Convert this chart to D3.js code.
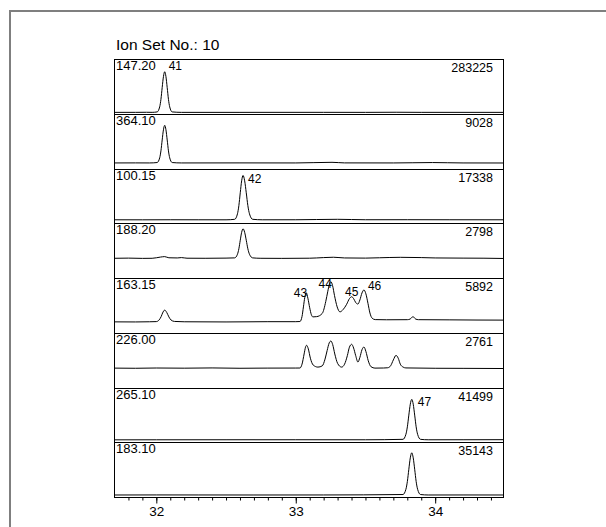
<!DOCTYPE html>
<html>
<head>
<meta charset="utf-8">
<script src="https://cdn.jsdelivr.net/npm/d3@7"></script>
<style>
  html, body { margin: 0; padding: 0; background: #fff; }
  svg { display: block; font-family: "Liberation Sans", Arial, sans-serif; }
</style>
</head>
<body>
<svg id="chart" width="606" height="527"></svg>
<script>
// Ion set 10: one selected-ion trace per panel, retention time in minutes
const title = "Ion Set No.: 10";
const ionMasses = ["147.20", "364.10", "100.15", "188.20", "163.15", "226.00", "265.10", "183.10"];
const maxCounts = [283225, 9028, 17338, 2798, 5892, 2761, 41499, 35143];
// full-scale count of each panel's intensity axis
const axisTop = [368800, 11360, 19700, 3126, 6320, 3233, 52530, 43730];

// [retention time, counts]
const trace147 = [
  [31.70, 11000], [31.85, 11100], [31.93, 11600], [31.97, 11100], [32.006, 14000], [32.024, 47750],
  [32.033, 98100], [32.042, 177000], [32.051, 250600], [32.060, 283225], [32.069, 250600],
  [32.078, 177000], [32.087, 98100], [32.096, 47750], [32.114, 14000], [32.18, 11000],
  [32.6, 11000], [33.2, 11200], [33.5, 11000], [33.72, 11800], [33.9, 11100], [34.49, 11000]
];
const trace364 = [
  [31.70, 1250], [31.85, 1260], [31.95, 1250], [32.006, 1336], [32.024, 2300], [32.033, 3739],
  [32.042, 5995], [32.051, 8095], [32.060, 9028], [32.069, 8095], [32.078, 5995], [32.087, 3739],
  [32.096, 2300], [32.114, 1336], [32.18, 1250], [32.6, 1260], [33.0, 1250], [33.26, 1380],
  [33.35, 1260], [33.7, 1250], [33.98, 1330], [34.2, 1250], [34.49, 1240]
];
const trace100 = [
  [31.70, 1170], [31.9, 1160], [32.1, 1180], [32.3, 1170], [32.50, 1165], [32.562, 1348],
  [32.582, 3353], [32.592, 6344], [32.602, 11032], [32.612, 15398], [32.622, 17338],
  [32.6335, 15398], [32.645, 11032], [32.6565, 6344], [32.668, 3353], [32.691, 1348],
  [32.76, 1170], [33.0, 1180], [33.3, 1350], [33.5, 1190], [33.8, 1200], [34.1, 1180], [34.49, 1170]
];
const trace188 = [
  [31.70, 1120], [31.80, 1130], [31.90, 1115], [31.97, 1120], [32.03, 1190], [32.06, 1215],
  [32.09, 1150], [32.15, 1140], [32.18, 1160], [32.22, 1125], [32.35, 1120], [32.50, 1130],
  [32.562, 1143], [32.582, 1351], [32.592, 1660], [32.602, 2146], [32.612, 2597], [32.622, 2798],
  [32.6335, 2597], [32.645, 2146], [32.6565, 1660], [32.668, 1351], [32.691, 1143], [32.75, 1120],
  [32.9, 1115], [33.1, 1125], [33.2, 1160], [33.27, 1180], [33.35, 1140], [33.5, 1130],
  [33.6, 1150], [33.75, 1175], [33.9, 1160], [34.0, 1140], [34.2, 1130], [34.35, 1125], [34.49, 1110]
];
const trace163 = [
  [31.70, 1280], [31.85, 1270], [31.95, 1290], [32.00, 1310], [32.02, 1500], [32.035, 1900],
  [32.045, 2300], [32.060, 2632], [32.075, 2350], [32.09, 1850], [32.105, 1500], [32.13, 1330],
  [32.2, 1290], [32.5, 1270], [32.8, 1300], [33.00, 1300], [33.03, 1320], [33.045, 1900],
  [33.055, 3000], [33.065, 4100], [33.075, 4630], [33.087, 4000], [33.10, 2900], [33.112, 2100],
  [33.123, 1851], [33.15, 1880], [33.19, 2250], [33.215, 3600], [33.23, 4800], [33.242, 5650],
  [33.252, 5892], [33.264, 5450], [33.278, 4300], [33.297, 3000], [33.317, 2430], [33.34, 2700],
  [33.365, 3300], [33.385, 3950], [33.401, 4166], [33.415, 3950], [33.43, 3500], [33.446, 3327],
  [33.46, 3800], [33.475, 4600], [33.489, 4946], [33.503, 4500], [33.518, 3400], [33.532, 2300],
  [33.548, 1700], [33.57, 1540], [33.65, 1520], [33.80, 1530], [33.82, 1600], [33.841, 1880],
  [33.86, 1600], [33.88, 1530], [34.1, 1510], [34.3, 1490], [34.49, 1480]
];
const trace226 = [
  [31.70, 1169], [31.85, 1160], [32.0, 1175], [32.2, 1165], [32.4, 1180], [32.6, 1160],
  [32.8, 1170], [33.00, 1172], [33.03, 1175], [33.045, 1400], [33.06, 2000], [33.07, 2400],
  [33.078, 2510], [33.09, 2300], [33.105, 1750], [33.125, 1350], [33.159, 1228], [33.19, 1300],
  [33.21, 1700], [33.225, 2200], [33.24, 2650], [33.252, 2761], [33.265, 2550], [33.28, 2000],
  [33.30, 1450], [33.329, 1228], [33.35, 1400], [33.37, 1900], [33.385, 2400], [33.401, 2569],
  [33.415, 2350], [33.43, 1900], [33.446, 1523], [33.46, 1800], [33.475, 2250], [33.489, 2409],
  [33.503, 2150], [33.52, 1600], [33.54, 1250], [33.568, 1169], [33.63, 1175], [33.66, 1190],
  [33.68, 1300], [33.70, 1650], [33.719, 1919], [33.735, 1750], [33.75, 1400], [33.77, 1230],
  [33.79, 1180], [34.0, 1160], [34.2, 1155], [34.49, 1145]
];
const trace265 = [
  [31.70, 2100], [32.0, 2150], [32.5, 2180], [33.0, 2200], [33.5, 2170], [33.769, 2593],
  [33.790, 7471], [33.8005, 14748], [33.811, 26160], [33.8215, 36778], [33.832, 41499],
  [33.8425, 36778], [33.853, 26160], [33.8635, 14748], [33.874, 7471], [33.895, 2593],
  [33.95, 2160], [34.2, 2200], [34.49, 2250]
];
const trace183 = [
  [31.70, 1600], [32.0, 1650], [32.3, 1620], [32.7, 1600], [33.2, 1620], [33.769, 1969],
  [33.790, 6128], [33.8005, 12334], [33.811, 22061], [33.8215, 31118], [33.832, 35143],
  [33.8425, 31118], [33.853, 22061], [33.8635, 12334], [33.874, 6128], [33.895, 1969],
  [33.95, 1600], [34.2, 1620], [34.49, 1600]
];
const traces = [trace147, trace364, trace100, trace188, trace163, trace226, trace265, trace183];

// numbered peaks: panel index, retention time of apex, label
const peakPanel = [0, 2, 4, 4, 4, 4, 6];
const peakTime = [32.060, 32.622, 33.075, 33.252, 33.401, 33.489, 33.832];
const peakText = ["41", "42", "43", "44", "45", "46", "47"];

const timeDomain = [31.70, 34.49];
const majorTicks = [32, 33, 34];
const tickLabels = ["32", "33", "34"];
const minorTicks = d3.range(318, 345).map(d => d / 10);

// ---- layout ----
const svg = d3.select("#chart");
const plotLeft = 114.5, plotRight = 503.5, plotTop = 59, plotBottom = 497;
const panelH = (plotBottom - plotTop) / ionMasses.length;

// surrounding frame
svg.append("rect")
  .attr("x", 10).attr("y", 11).attr("width", 640).attr("height", 560)
  .attr("fill", "none").attr("stroke", "#7f7f7f").attr("stroke-width", 2);

svg.append("text")
  .attr("x", 116).attr("y", 50)
  .attr("font-size", 15.5).attr("fill", "#000")
  .text(title);

const x = d3.scaleLinear().domain(timeDomain).range([plotLeft, plotRight]);

// label placement relative to each apex
const labelPlace = {
  "41": { anchor: "start", dx: 4, dy: -2 },
  "42": { anchor: "start", dx: 5, dy: 8 },
  "43": { anchor: "end", dx: 1, dy: 4 },
  "44": { anchor: "end", dx: 1, dy: 6 },
  "45": { anchor: "middle", dx: 0, dy: -1 },
  "46": { anchor: "start", dx: 4, dy: 0 },
  "47": { anchor: "start", dx: 6, dy: 7 }
};

const yScales = [];
ionMasses.forEach((mass, i) => {
  const y0 = Math.round(plotTop + i * panelH);
  const y1 = Math.round(plotTop + (i + 1) * panelH);
  const y = d3.scaleLinear().domain([0, axisTop[i]]).range([y1, y0]);
  yScales.push(y);

  const g = svg.append("g");
  g.append("rect")
    .attr("x", plotLeft).attr("y", y0 + 0.5)
    .attr("width", plotRight - plotLeft).attr("height", y1 - y0)
    .attr("fill", "none").attr("stroke", "#000").attr("stroke-width", 1);

  const line = d3.line()
    .x(d => x(d[0]))
    .y(d => y(d[1]))
    .curve(d3.curveMonotoneX);

  g.append("path")
    .attr("d", line(traces[i]))
    .attr("fill", "none").attr("stroke", "#000").attr("stroke-width", 1);

  g.append("text")
    .attr("x", plotLeft + 1.5).attr("y", y0 + 11)
    .attr("font-size", 13).attr("fill", "#000")
    .text(mass);

  g.append("text")
    .attr("x", 493).attr("y", y0 + 12.5)
    .attr("font-size", 12.5).attr("fill", "#000")
    .attr("text-anchor", "end")
    .text(String(maxCounts[i]));
});

// peak numbers, placed beside the apex of their trace
peakText.forEach((txt, k) => {
  const p = peakPanel[k];
  const pt = traces[p].find(d => d[0] === peakTime[k]);
  const place = labelPlace[txt];
  svg.append("text")
    .attr("x", x(pt[0]) + place.dx)
    .attr("y", yScales[p](pt[1]) + place.dy)
    .attr("text-anchor", place.anchor)
    .attr("font-size", 12).attr("fill", "#000")
    .text(txt);
});

// time axis under the bottom panel
const axisG = svg.append("g").attr("transform", `translate(0,${plotBottom + 0.5})`);
axisG.append("g")
  .call(d3.axisBottom(x).tickValues(minorTicks).tickSize(3).tickFormat(""))
  .call(a => a.select(".domain").remove());
axisG.append("g")
  .call(d3.axisBottom(x).tickValues(majorTicks).tickSize(6)
    .tickFormat((d, i) => tickLabels[i]))
  .call(a => a.select(".domain").remove())
  .call(a => a.selectAll("text").attr("font-size", 13.5)
    .attr("font-family", "Liberation Sans, Arial, sans-serif").attr("fill", "#000"));
axisG.selectAll("line").attr("stroke", "#000");
</script>
</body>
</html>
